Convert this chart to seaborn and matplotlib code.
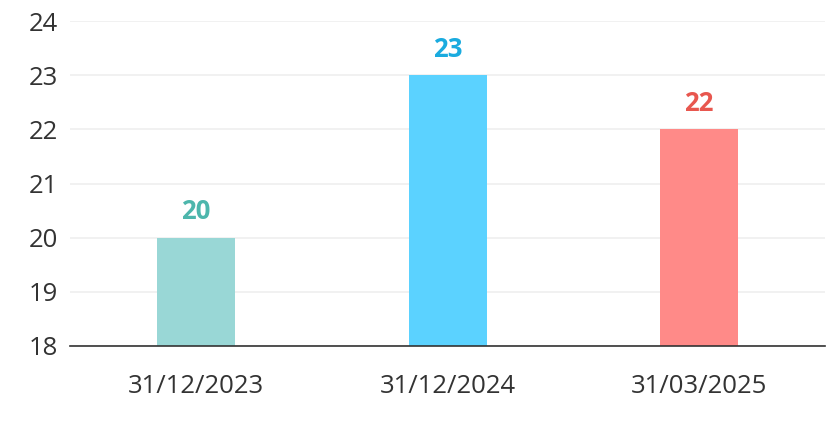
import pandas as pd
import seaborn as sns
import matplotlib.pyplot as plt

dates = ["31/12/2023", "31/12/2024", "31/03/2025"]
values = [20, 23, 22]
bar_colors = ["#99D7D6", "#5BD2FF", "#FF8A88"]
label_colors = ["#4DB6AC", "#1AABDF", "#E8574F"]

df = pd.DataFrame({"date": dates, "value": values})

sns.set_style("white")
plt.rcParams['font.family'] = ['Open Sans', 'DejaVu Sans']

fig = plt.figure(figsize=(8.4, 4.24), dpi=100)
ax = fig.add_axes([0.0833, 0.184, 0.899, 0.766])

sns.barplot(data=df, x="date", y="value", hue="date", palette=bar_colors,
            width=0.31, legend=False, ax=ax, saturation=1, linewidth=0)

# value labels
for i, v in enumerate(values):
    ax.annotate(str(v), (i, v), xytext=(0, 9), textcoords="offset points",
                ha="center", va="bottom", fontsize=18.5, fontweight="bold",
                color=label_colors[i])

ax.set_ylim(18, 24)
ax.set_xlim(-0.5, 2.5)
ax.set_yticks(range(18, 25))
ax.yaxis.grid(True, color="#EFEFEF", linewidth=1.2)
ax.set_axisbelow(True)
ax.set_xlabel("")
ax.set_ylabel("")

for s in ["top", "right", "left"]:
    ax.spines[s].set_visible(False)
ax.spines["bottom"].set_color("#333333")
ax.spines["bottom"].set_linewidth(1.2)

ax.tick_params(axis="both", length=0, labelsize=18.5, colors="#333333")
ax.tick_params(axis="x", pad=20)
ax.tick_params(axis="y", pad=30)
for lbl in ax.get_yticklabels():
    lbl.set_horizontalalignment("left")

fig.savefig("out.png", dpi=100)
